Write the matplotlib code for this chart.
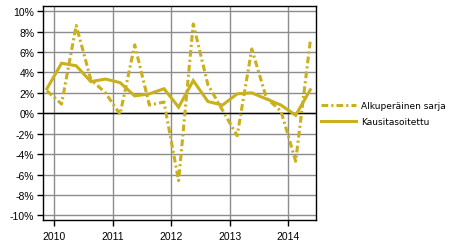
import matplotlib
matplotlib.use("Agg")
from matplotlib import pyplot as plt
from matplotlib.ticker import FuncFormatter

# quarterly data, 2009Q4 - 2014Q2
quarters = ["2009Q4",
            "2010Q1", "2010Q2", "2010Q3", "2010Q4",
            "2011Q1", "2011Q2", "2011Q3", "2011Q4",
            "2012Q1", "2012Q2", "2012Q3", "2012Q4",
            "2013Q1", "2013Q2", "2013Q3", "2013Q4",
            "2014Q1", "2014Q2"]
original = [2.2, 0.9, 8.6, 3.3, 2.0, -0.1, 6.7, 0.8, 1.1, -6.6,
            8.75, 2.8, 0.3, -2.2, 6.3, 1.5, 0.2, -4.7, 7.1]
adjusted = [2.4, 4.9, 4.65, 3.1, 3.35, 3.0, 1.7, 1.9, 2.4, 0.6,
            3.2, 1.15, 0.8, 1.9, 2.0, 1.4, 0.8, -0.2, 2.3]
years = [2010, 2011, 2012, 2013, 2014]
yticks = [-10, -8, -6, -4, -2, 0, 2, 4, 6, 8, 10]
labels = ["Alkuperäinen sarja", "Kausitasoitettu"]

# mid-quarter positions on a year scale
xpos = [int(q[:4]) + (int(q[-1]) - 1) / 4.0 + 0.125 for q in quarters]

gold = '#C9B01C'
grid = '#8C8C8C'

plt.rcParams['font.family'] = ['Liberation Sans', 'DejaVu Sans']

fig = plt.figure(figsize=(4.54, 2.53), dpi=100)
ax = fig.add_axes([0.094, 0.1265, 0.6014, 0.8445])

ax.set_xlim(2009.8025, 2014.4675)
ax.set_ylim(-10.45, 10.47)
ax.set_xticks(years)
ax.set_xticklabels([str(y) for y in years])
ax.set_yticks(yticks)
ax.yaxis.set_major_formatter(FuncFormatter(lambda v, p: '%d%%' % v))

ax.grid(True, color=grid, linewidth=1.0)
ax.set_axisbelow(True)
ax.axhline(0, color='black', linewidth=1.0, zorder=1.5)

ax.plot(xpos, original, color=gold, linewidth=2.2,
        linestyle=(0, (2.2, 1.0, 0.7, 1.0)), label=labels[0], zorder=3)
ax.plot(xpos, adjusted, color=gold, linewidth=2.2, solid_joinstyle='miter',
        label=labels[1], zorder=3)

for s in ax.spines.values():
    s.set_color('black')
    s.set_linewidth(1.0)
ax.tick_params(axis='both', length=4, width=1.0, color='black',
               labelsize=7.5, pad=2)
ax.tick_params(axis='x', pad=4)

leg = ax.legend(loc='center left', bbox_to_anchor=(0.700, 0.546),
                bbox_transform=fig.transFigure, frameon=False,
                prop={'family': 'DejaVu Sans', 'size': 6.5},
                handlelength=3.8, handletextpad=0.6, labelspacing=0.75,
                borderaxespad=0)

plt.savefig('out.png', dpi=100)
